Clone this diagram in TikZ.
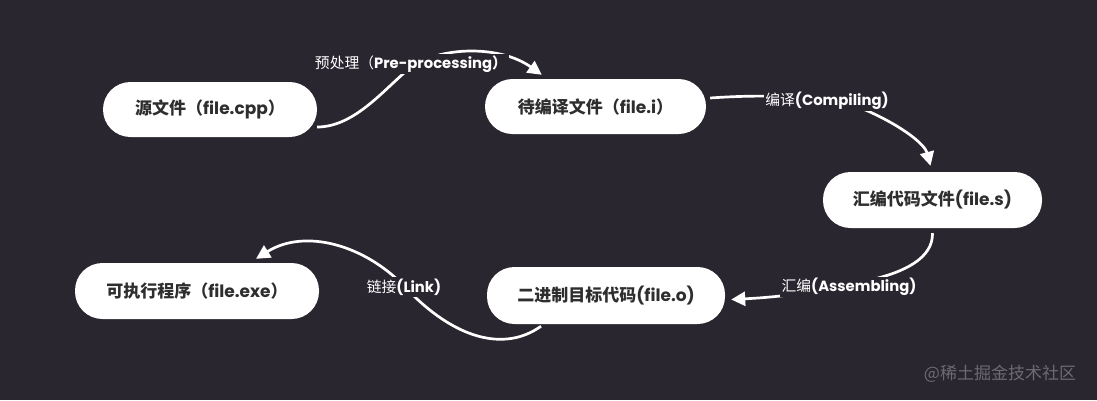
\documentclass[tikz,border=0pt]{standalone}
\usepackage{fontspec}
\setmainfont{Poppins}
\newfontfamily\cjk{Noto Sans CJK SC}
\usetikzlibrary{calc,arrows.meta}
\definecolor{bgc}{HTML}{2A2630}
\definecolor{txt}{HTML}{2E2E2E}
\definecolor{wm}{HTML}{6E6A72}
\newcommand\zh[1]{{\cjk #1}}
\tikzset{
  box/.style={rectangle, fill=white, rounded corners=27.5pt, minimum height=55pt,
    inner sep=0pt, font=\fontsize{17}{19}\selectfont\bfseries, text=txt},
  lab/.style={fill=bgc, text=white, inner sep=1.5pt, font=\fontsize{14.8}{16}\selectfont\bfseries},
  conn/.style={draw=white, line width=2.7pt, -{Triangle[length=14pt,width=14pt]}}
}
\begin{document}
\begin{tikzpicture}[x=1pt,y=-1pt]
\fill[bgc] (0,0) rectangle (1097,400);
\useasboundingbox (0,0) rectangle (1097,400);

\node[box, minimum width=214pt] (src) at (210,109.5) {\zh{源文件（}file.cpp\zh{）}};
\node[box, minimum width=221pt] (mid) at (595.5,106.5) {\zh{待编译文件（}file.i\zh{）}};
\node[box, minimum width=219pt, minimum height=56pt] (asmn) at (932.5,200) {\zh{汇编代码文件}(file.s)};
\node[box, minimum width=238pt, minimum height=57pt] (obj) at (606,295.5) {\zh{二进制目标代码}(file.o)};
\node[box, minimum width=244pt, minimum height=56pt] (exe) at (197,291) {\zh{可执行程序（}file.exe\zh{）}};

\draw[conn] ($(src.east)+(0,17.5)$) .. controls (355,127) and (385,88) .. (410,68)
   .. controls (440,46) and (500,45) .. ($(mid.north west)+(57,-4)$);
\draw[conn] ($(mid.east)+(4,-8.5)$) .. controls (780,93) and (840,98) .. (870,112)
   .. controls (905,128) and (925,145) .. ($(asmn.north)+(-2,-6)$);
\draw[conn] ($(asmn.south)+(0,5)$) .. controls (933,258) and (905,272) .. (870,280)
   .. controls (840,287) and (800,296) .. ($(obj.east)+(6,4)$);
\draw[conn] ($(obj.south)+(-65,2)$) .. controls (505,352) and (455,340) .. (405,287)
   .. controls (365,245) and (305,228) .. ($(exe.north)+(59,-4)$);

\node[lab] (lpre) at (411,64) {\zh{\mdseries 预处理（}Pre-processing\zh{）}};
\node[lab] (lcomp) at (827,101) {\zh{\mdseries 编译}(Compiling)};
\node[lab] (lasm) at (849,287) {\zh{\mdseries 汇编}(Assembling)};
\node[lab] (llink) at (404,287) {\zh{\mdseries 链接}(Link)};

\node[text=wm, font=\fontsize{17}{19}\selectfont, anchor=center] (wmk) at (1000,374) {\zh{@稀土掘金技术社区}};
\end{tikzpicture}
\end{document}
